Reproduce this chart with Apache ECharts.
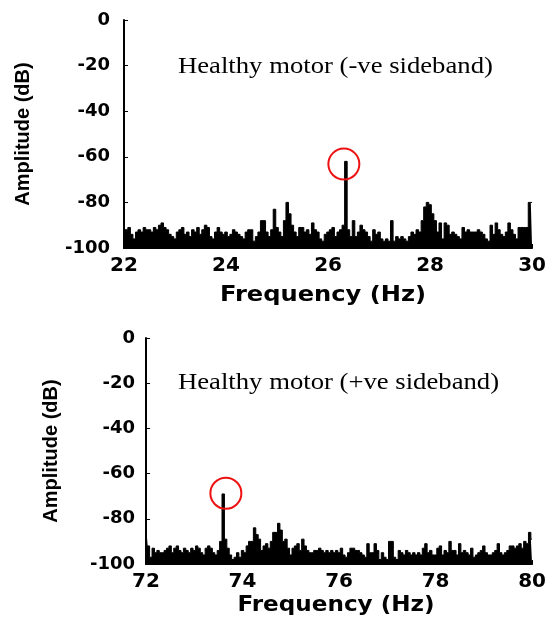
<!DOCTYPE html>
<html>
<head>
<meta charset="utf-8">
<script src="https://cdn.jsdelivr.net/npm/echarts@6/dist/echarts.min.js"></script>
<style>html,body{margin:0;padding:0;background:#fff;}#c{width:549px;height:618px;}</style>
</head>
<body>
<div id="c"></div>
<script>
// ---- data ----
// Top panel: healthy motor, -ve sideband, 22..30 Hz, sampled every 0.05 Hz
var topFreqStart = 22, topFreqStep = 0.05;
var topAmplitude = [
  -91,-92,-91,-94,-96,-93,-92,-93,-91,-92,-92,-93,-91,-92,-90,-89,-91,-92,-94,-95,
  -96,-93,-92,-91,-94,-93,-95,-92,-93,-91,-94,-92,-90,-91,-95,-96,-93,-91,-93,-94,
  -93,-95,-94,-92,-93,-94,-95,-96,-93,-92,-92,-97,-95,-93,-88,-88,-93,-95,-92,-83,
  -91,-93,-95,-88,-80,-85,-90,-93,-95,-91,-91,-93,-92,-94,-89,-92,-93,-96,-97,-94,
  -93,-92,-91,-95,-93,-92,-90,-62,-92,-95,-88,-95,-93,-90,-92,-93,-95,-97,-92,-94,
  -93,-96,-97,-96,-97,-88,-97,-95,-96,-95,-96,-97,-95,-93,-94,-92,-93,-88,-82,-80,
  -81,-85,-88,-93,-89,-96,-89,-90,-94,-93,-94,-95,-96,-91,-93,-92,-93,-93,-93,-92,
  -93,-94,-96,-97,-90,-94,-89,-92,-94,-95,-93,-89,-92,-94,-96,-91,-91,-91,-91,-80,
  -80
];
// Bottom panel: healthy motor, +ve sideband, 72..80 Hz, sampled every 0.05 Hz
var botFreqStart = 72, botFreqStep = 0.05;
var botAmplitude = [
  -86,-92,-97,-93,-95,-94,-95,-95,-94,-93,-92,-95,-93,-92,-94,-95,-93,-94,-95,-93,
  -94,-92,-93,-95,-96,-93,-92,-93,-95,-96,-94,-90,-69,-89,-93,-96,-98,-97,-95,-97,
  -94,-95,-92,-90,-90,-84,-87,-89,-94,-92,-91,-93,-90,-86,-86,-82,-85,-90,-89,-93,
  -96,-93,-92,-91,-94,-89,-92,-94,-95,-95,-94,-94,-93,-94,-95,-94,-95,-94,-95,-94,
  -95,-93,-96,-97,-95,-93,-93,-94,-94,-95,-96,-97,-91,-95,-95,-91,-94,-98,-95,-97,
  -98,-90,-90,-97,-98,-94,-95,-96,-94,-95,-96,-95,-96,-95,-96,-93,-91,-95,-94,-96,
  -96,-93,-92,-96,-94,-95,-90,-94,-94,-96,-91,-95,-94,-95,-96,-93,-97,-96,-95,-94,
  -92,-95,-96,-96,-95,-94,-91,-95,-96,-95,-94,-92,-92,-93,-92,-91,-93,-90,-91,-86,
  -89
];
var topRange = [22, 30], botRange = [72, 80];
var freqTicks = 2;
var ampRange = [-100, 0], ampTicks = 20;
var topHighlight = [26.31, -63.2];   // circled peak
var botHighlight = [73.655, -68.7];
var topNote = 'Healthy motor (-ve sideband)';
var botNote = 'Healthy motor (+ve sideband)';
var xTitle = 'Frequency (Hz)';
var yTitle = 'Amplitude (dB)';

function pairs(start, step, vals) {
  return vals.map(function (v, i) { return [+(start + i * step).toFixed(3), v]; });
}

var tickFont = {fontFamily: 'DejaVu Sans', fontWeight: 'bold', color: '#000'};

function xAxisDef(idx, range) {
  return {
    type: 'value', gridIndex: idx, min: range[0], max: range[1], interval: freqTicks,
    axisLine: {show: true, onZero: false, lineStyle: {color: '#000', width: 2}},
    axisTick: {show: true, inside: true, length: 4, lineStyle: {color: '#000'}},
    splitLine: {show: false},
    axisLabel: Object.assign({fontSize: 20, margin: 8}, tickFont)
  };
}
function yAxisDef(idx, gap, margin) {
  return {
    type: 'value', gridIndex: idx, min: ampRange[0], max: ampRange[1], interval: ampTicks,
    axisLine: {show: true, onZero: false, lineStyle: {color: '#000', width: 2}},
    axisTick: {show: true, inside: true, length: 4, lineStyle: {color: '#000'}},
    splitLine: {show: false},
    axisLabel: Object.assign({fontSize: 18, margin: margin}, tickFont),
    name: yTitle, nameLocation: 'middle', nameGap: gap, nameRotate: 90,
    nameTextStyle: {fontFamily: 'Liberation Sans', fontWeight: 'bold', fontSize: 20, color: '#000'}
  };
}
function seriesDef(idx, data, hl) {
  return {
    type: 'line', xAxisIndex: idx, yAxisIndex: idx, step: 'middle',
    data: data, showSymbol: false, animation: false,
    lineStyle: {color: '#000', width: 1},
    areaStyle: {color: '#000', opacity: 1, origin: 'start'},
    markPoint: {
      symbol: 'circle', symbolSize: 31, silent: true, animation: false,
      label: {show: false},
      itemStyle: {color: 'rgba(0,0,0,0)', borderColor: '#ee1111', borderWidth: 2},
      data: [{coord: hl}]
    }
  };
}

var chart = echarts.init(document.getElementById('c'), null, {renderer: 'canvas'});
chart.setOption({
  backgroundColor: '#fff',
  animation: false,
  grid: [
    {left: 124, right: 15, top: 20, height: 228},
    {left: 146, right: 13, top: 338, height: 226}
  ],
  xAxis: [xAxisDef(0, topRange), xAxisDef(1, botRange)],
  yAxis: [yAxisDef(0, 91, 14), yAxisDef(1, 85, 11)],
  series: [
    seriesDef(0, pairs(topFreqStart, topFreqStep, topAmplitude), topHighlight),
    seriesDef(1, pairs(botFreqStart, botFreqStep, botAmplitude), botHighlight)
  ],
  graphic: [
    {type: 'text', x: 178, y: 67, scaleX: 1.16, silent: true,
     style: {text: topNote, font: '23px "Liberation Serif"', fill: '#000', textVerticalAlign: 'middle'}},
    {type: 'text', x: 178, y: 383, scaleX: 1.16, silent: true,
     style: {text: botNote, font: '23px "Liberation Serif"', fill: '#000', textVerticalAlign: 'middle'}},
    {type: 'text', x: 323, y: 296, scaleX: 1.15, silent: true,
     style: {text: xTitle, font: 'bold 21px "DejaVu Sans"', fill: '#000', textAlign: 'center', textVerticalAlign: 'middle'}},
    {type: 'text', x: 336, y: 606, scaleX: 1.1, silent: true,
     style: {text: xTitle, font: 'bold 21px "DejaVu Sans"', fill: '#000', textAlign: 'center', textVerticalAlign: 'middle'}}
  ]
});
</script>
</body>
</html>
